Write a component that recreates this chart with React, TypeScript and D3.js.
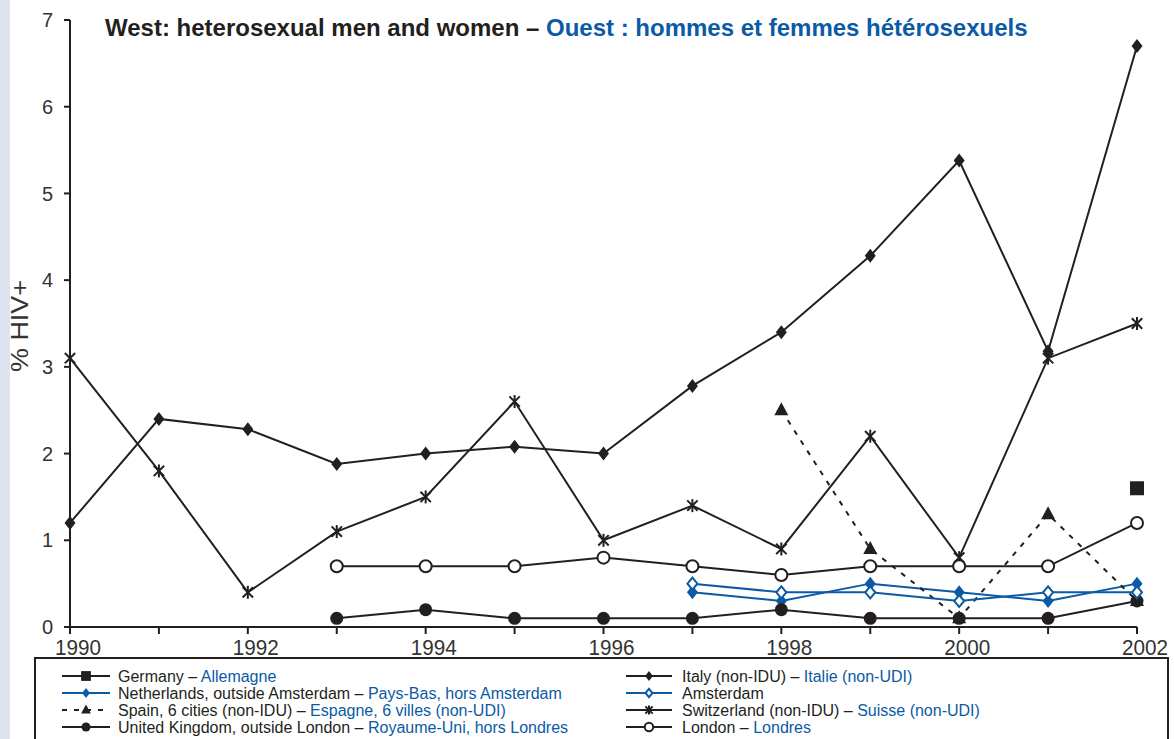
import * as d3 from "d3";

// ── Data ────────────────────────────────────────────────────────────────────
const years = [1990, 1991, 1992, 1993, 1994, 1995, 1996, 1997, 1998, 1999, 2000, 2001, 2002];

const germany = [null, null, null, null, null, null, null, null, null, null, null, null, 1.6];
const netherlands = [null, null, null, null, null, null, null, 0.4, 0.3, 0.5, 0.4, 0.3, 0.5];
const spain = [null, null, null, null, null, null, null, null, 2.5, 0.9, 0.1, 1.3, 0.3];
const ukOutsideLondon = [null, null, null, 0.1, 0.2, 0.1, 0.1, 0.1, 0.2, 0.1, 0.1, 0.1, 0.3];
const italy = [1.2, 2.4, 2.28, 1.88, 2.0, 2.08, 2.0, 2.78, 3.4, 4.28, 5.38, 3.18, 6.7];
const amsterdam = [null, null, null, null, null, null, null, 0.5, 0.4, 0.4, 0.3, 0.4, 0.4];
const switzerland = [3.1, 1.8, 0.4, 1.1, 1.5, 2.6, 1.0, 1.4, 0.9, 2.2, 0.8, 3.1, 3.5];
const london = [null, null, null, 0.7, 0.7, 0.7, 0.8, 0.7, 0.6, 0.7, 0.7, 0.7, 1.2];

const yTicks = [0, 1, 2, 3, 4, 5, 6, 7];
const xLabels = [1990, 1992, 1994, 1996, 1998, 2000, 2002];

const BLACK = "#231f20";
const BLUE = "#0b5aa5";

type Marker = "square" | "diamond" | "openDiamond" | "triangle" | "circle" | "openCircle" | "star";

interface Series {
  en: string;
  fr: string;
  values: (number | null)[];
  color: string;
  marker: Marker;
  dashed?: boolean;
}

const seriesList: Series[] = [
  { en: "Germany – ", fr: "Allemagne", values: germany, color: BLACK, marker: "square" },
  { en: "Netherlands, outside Amsterdam – ", fr: "Pays-Bas, hors Amsterdam", values: netherlands, color: BLUE, marker: "diamond" },
  { en: "Spain, 6 cities (non-IDU) – ", fr: "Espagne, 6 villes (non-UDI)", values: spain, color: BLACK, marker: "triangle", dashed: true },
  { en: "United Kingdom, outside London – ", fr: "Royaume-Uni, hors Londres", values: ukOutsideLondon, color: BLACK, marker: "circle" },
  { en: "Italy (non-IDU) – ", fr: "Italie (non-UDI)", values: italy, color: BLACK, marker: "diamond" },
  { en: "Amsterdam", fr: "", values: amsterdam, color: BLUE, marker: "openDiamond" },
  { en: "Switzerland (non-IDU) – ", fr: "Suisse (non-UDI)", values: switzerland, color: BLACK, marker: "star" },
  { en: "London – ", fr: "Londres", values: london, color: BLACK, marker: "openCircle" },
];

const W = 1174;
const H = 739;
const FONT = "'Liberation Sans', Arial, Helvetica, sans-serif";

function MarkerShape({ type, x, y, color, s = 1 }: { type: Marker; x: number; y: number; color: string; s?: number }) {
  switch (type) {
    case "square":
      return <rect x={x - 7 * s} y={y - 7 * s} width={14 * s} height={14 * s} fill={color} />;
    case "diamond":
      return <path d={`M${x},${y - 7 * s}L${x + 5.5 * s},${y}L${x},${y + 7 * s}L${x - 5.5 * s},${y}Z`} fill={color} />;
    case "openDiamond":
      return (
        <path
          d={`M${x},${y - 6 * s}L${x + 5 * s},${y}L${x},${y + 6 * s}L${x - 5 * s},${y}Z`}
          fill="#fff"
          stroke={color}
          strokeWidth={2}
        />
      );
    case "triangle":
      return <path d={`M${x},${y - 8 * s}L${x + 7 * s},${y + 5 * s}L${x - 7 * s},${y + 5 * s}Z`} fill={color} />;
    case "circle":
      return <circle cx={x} cy={y} r={6.5 * s} fill={color} />;
    case "openCircle":
      return <circle cx={x} cy={y} r={6 * s} fill="#fff" stroke={color} strokeWidth={2} />;
    case "star": {
      const r = 6.5 * s;
      const d = r * 0.8;
      return (
        <g stroke={color} strokeWidth={2}>
          <line x1={x} y1={y - r} x2={x} y2={y + r} />
          <line x1={x - d} y1={y - d} x2={x + d} y2={y + d} />
          <line x1={x - d} y1={y + d} x2={x + d} y2={y - d} />
        </g>
      );
    }
  }
}

export default function App() {
  const x = d3.scaleLinear().domain([1990, 2002]).range([70, 1137]);
  const y = d3.scaleLinear().domain([0, 7]).range([627, 20]);

  const line = d3
    .line<number | null>()
    .defined((d) => d != null)
    .x((_, i) => x(years[i]))
    .y((d) => y(d as number));

  const legendRows = [0, 1, 2, 3];
  const rowY = (i: number) => 676 + i * 17;

  return (
    <svg width={W} height={H} style={{ position: "absolute", left: 0, top: 0, fontFamily: FONT }}>
      <rect x={0} y={0} width={W} height={H} fill="#fff" />
      <rect x={0} y={0} width={10} height={H} fill="#dfe3f0" />

      {/* Title */}
      <text x={105} y={36} fontSize={24} fontWeight="bold" fill={BLACK}>
        West: heterosexual men and women –{" "}
        <tspan fill={BLUE}>Ouest : hommes et femmes hétérosexuels</tspan>
      </text>

      {/* Y axis */}
      <line x1={70} x2={70} y1={y(7)} y2={y(0)} stroke={BLACK} strokeWidth={2} />
      {yTicks.map((t) => (
        <g key={t}>
          <line x1={64} x2={70} y1={y(t)} y2={y(t)} stroke={BLACK} strokeWidth={2} />
          <text x={53} y={y(t)} dy="0.36em" textAnchor="end" fontSize={20} fill="#333">
            {t}
          </text>
        </g>
      ))}
      <text
        transform={`translate(28,326) rotate(-90)`}
        textAnchor="middle"
        fontSize={24}
        textLength={92}
        lengthAdjust="spacingAndGlyphs"
        fill="#333"
      >
        % HIV+
      </text>

      {/* X axis */}
      <line x1={x(1990)} x2={x(2002)} y1={y(0)} y2={y(0)} stroke={BLACK} strokeWidth={2} />
      {years.map((yr) => (
        <line key={yr} x1={x(yr)} x2={x(yr)} y1={y(0)} y2={y(0) + 7} stroke={BLACK} strokeWidth={2} />
      ))}
      {xLabels.map((yr) => (
        <text
          key={yr}
          x={x(yr) + 8}
          y={655}
          textAnchor="middle"
          fontSize={22}
          textLength={46}
          lengthAdjust="spacingAndGlyphs"
          fill="#333"
        >
          {yr}
        </text>
      ))}

      {/* Series lines */}
      {seriesList.map((s, si) => (
        <path
          key={si}
          d={line(s.values) ?? ""}
          fill="none"
          stroke={s.color}
          strokeWidth={2}
          strokeDasharray={s.dashed ? "5,7" : undefined}
        />
      ))}
      {/* Series markers */}
      {seriesList.map((s, si) => (
        <g key={si}>
          {s.values.map((v, i) =>
            v == null ? null : <MarkerShape key={i} type={s.marker} x={x(years[i])} y={y(v)} color={s.color} />
          )}
        </g>
      ))}

      {/* Legend */}
      <rect x={35} y={658} width={1133} height={100} fill="#fff" stroke={BLACK} strokeWidth={2} />
      {seriesList.map((s, si) => {
        const col = Math.floor(si / 4);
        const row = legendRows[si % 4];
        const lx1 = col === 0 ? 62 : 626;
        const lx2 = col === 0 ? 110 : 672;
        const tx = col === 0 ? 118 : 682;
        const ly = rowY(row);
        return (
          <g key={si}>
            <line
              x1={lx1}
              x2={lx2}
              y1={ly}
              y2={ly}
              stroke={s.color}
              strokeWidth={2}
              strokeDasharray={s.dashed ? "5,7" : undefined}
            />
            <MarkerShape type={s.marker} x={(lx1 + lx2) / 2} y={ly} color={s.color} s={0.7} />
            <text x={tx} y={ly} dy="0.35em" fontSize={16} fill={BLACK}>
              {s.en}
              {s.fr && <tspan fill={BLUE}>{s.fr}</tspan>}
            </text>
          </g>
        );
      })}
    </svg>
  );
}
